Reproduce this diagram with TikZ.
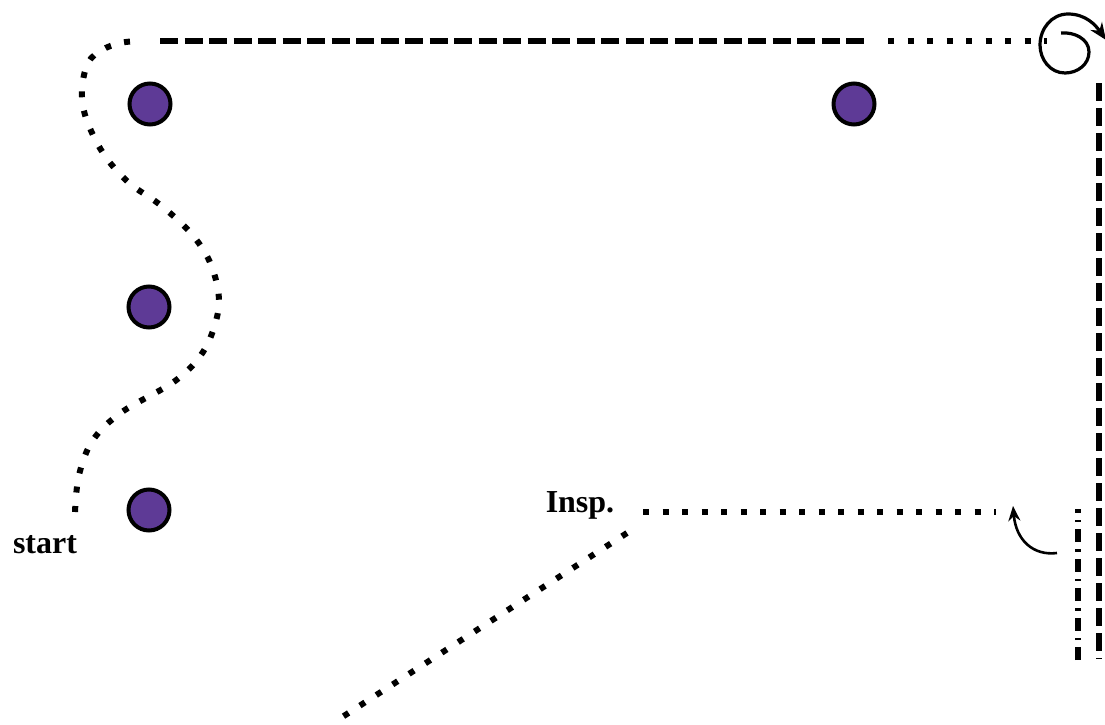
\documentclass[tikz,border=0pt]{standalone}
\usepackage{fontspec}
\setmainfont{Liberation Serif}
\usetikzlibrary{arrows.meta}
\definecolor{spotfill}{HTML}{5E3A96}
\begin{document}
\begin{tikzpicture}[x=1pt,y=1pt,
  spot/.style={circle,draw=black,line width=4pt,fill=spotfill,minimum size=41pt,inner sep=0pt},
  lbl/.style={font=\fontsize{32}{38}\selectfont\bfseries,inner sep=0pt},
  dotline/.style={line width=6pt,dash pattern=on 6pt off 13.5pt},
  dashline/.style={line width=5.5pt,dash pattern=on 18pt off 6.5pt},
  vdashline/.style={line width=6pt,dash pattern=on 18pt off 7pt},
  dashdotline/.style={line width=6.5pt,dash pattern=on 13pt off 7pt on 2.5pt off 7pt},
  thinarrow/.style={line width=2.6pt,-{Stealth[length=15pt,width=12pt]}}
]
\useasboundingbox (0,0) rectangle (1105,-725);
% spots
\node[spot] (c1) at (150,-104) {};
\node[spot] (c2) at (854,-104) {};
\node[spot] (c3) at (149,-307) {};
\node[spot] (c4) at (149,-510) {};
% labels
\node[lbl,anchor=base] (start) at (45,-553) {start};
\node[lbl,anchor=base] (insp) at (580,-512) {Insp.};
% coordinates
\coordinate (p0) at (75,-512);
\coordinate (p1) at (138,-41);
\coordinate (d0) at (160,-41);
\coordinate (d1) at (868,-41);
\coordinate (t0) at (888,-41);
\coordinate (t1) at (1047,-41);
\coordinate (s0) at (1061,-33);
\coordinate (s1) at (1106,-40);
\coordinate (v0) at (1099,-83);
\coordinate (v1) at (1099,-659);
\coordinate (w0) at (1078,-660);
\coordinate (w1) at (1078,-509);
\coordinate (a0) at (1057,-553);
\coordinate (a1) at (1013,-506);
\coordinate (h0) at (643,-512);
\coordinate (h1) at (996,-512);
\coordinate (g0) at (627,-533);
\coordinate (g1) at (333,-723);
% winding dotted path
\draw[dotline] plot[smooth,tension=0.6] coordinates {
  (p0) (79,-475) (93,-440) (122,-412) (175,-381) (203,-352) (217,-317)
  (218,-290) (208,-258) (188,-230) (159,-204) (128,-182) (103,-153)
  (86,-118) (82,-90) (88,-63) (102,-50) (120,-43) (p1)};
% top dashed and dotted
\draw[dashline] (d0) -- (d1);
\draw[dotline] (t0) -- (t1);
% spiral
\draw[line width=3.2pt,-{Stealth[length=17pt,width=14pt]}] (s0)
  to[out=5,in=90] (1089,-52) to[out=-90,in=0] (1065,-73)
  to[out=180,in=-90] (1040,-45) to[out=90,in=180] (1068,-14)
  to[out=0,in=125] (s1);
% right verticals
\draw[vdashline] (v0) -- (v1);
\draw[dashdotline] (w0) -- (w1);
% small curved arrow
\draw[thinarrow] (a0) .. controls (1033,-556) and (1016,-540) .. (a1);
% Insp lines
\draw[dotline] (h0) -- (h1);
\draw[dotline] (g0) -- (g1);
\end{tikzpicture}
\end{document}
